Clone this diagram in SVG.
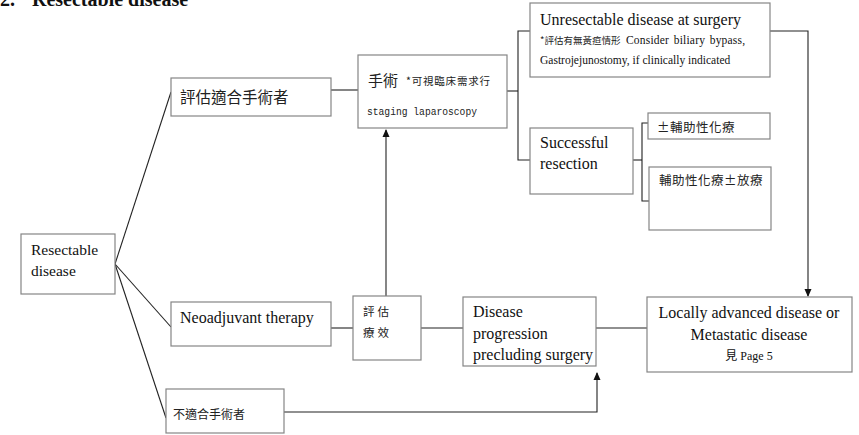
<svg xmlns="http://www.w3.org/2000/svg" width="859" height="435" viewBox="0 0 859 435">
<style>
.box{fill:#fff;stroke:#858585;stroke-width:1.2}
.ln{fill:none;stroke:#222;stroke-width:1.1}
.en{font-family:"Liberation Serif","Noto Sans CJK TC",serif;fill:#111}
.cj{font-family:"Noto Sans CJK TC","Liberation Serif",serif;fill:#222}
.mono{font-family:"Liberation Mono",monospace;fill:#222}
</style>
<defs>
<marker id="arr" markerWidth="8" markerHeight="8" refX="7" refY="4" orient="auto" markerUnits="userSpaceOnUse">
<path d="M0,0.5 L8,4 L0,7.5 Z" fill="#111"/>
</marker>
</defs>
<rect width="859" height="435" fill="#fff"/>
<text class="en" y="6" font-size="20" font-weight="bold"><tspan x="0">2.</tspan><tspan x="32">Resectable disease</tspan></text>

<g id="connectors">
<path class="ln" d="M115,264 L171,92"/>
<path class="ln" d="M115,264 L171,327"/>
<path class="ln" d="M115,264 L166,418"/>
<path class="ln" d="M331,90 L358,90"/>
<path class="ln" d="M507,91 L518,91"/>
<path class="ln" d="M530,31 L518,31 L518,160 L530,160"/>
<path class="ln" d="M633,160 L642,160"/>
<path class="ln" d="M648,123 L642,123 L642,201 L649,201"/>
<path class="ln" d="M770,31 L808,31 L808,296" stroke-width="1.5" marker-end="url(#arr)"/>
<path class="ln" d="M386,296 L386,130" marker-end="url(#arr)"/>
<path class="ln" d="M331,328 L353,328"/>
<path class="ln" d="M421,328 L463,328"/>
<path class="ln" d="M596,328 L647,328"/>
<path class="ln" d="M284,412 L597,412 L597,373" marker-end="url(#arr)"/>
</g>

<g id="resectable">
<rect class="box" x="21" y="234" width="94" height="60"/>
<text class="en" font-size="15.5" x="31" y="255">Resectable</text>
<text class="en" font-size="15.5" x="31" y="276">disease</text>
</g>

<g id="fit">
<rect class="box" x="171" y="78" width="160" height="38"/>
<text class="cj" font-size="15.5" x="180" y="103">評估適合手術者</text>
</g>

<g id="neoadjuvant">
<rect class="box" x="171" y="302" width="160" height="44"/>
<text class="en" font-size="16" x="180" y="323">Neoadjuvant therapy</text>
</g>

<g id="unfit">
<rect class="box" x="166" y="389" width="118" height="44"/>
<text class="cj" font-size="12" x="173" y="419">不適合手術者</text>
</g>

<g id="surgery">
<rect class="box" x="358" y="55" width="149" height="73"/>
<text class="cj" font-size="15" x="368" y="86">手術</text>
<text class="cj" font-size="10.5" x="406" y="85" letter-spacing="0.8">*可視臨床需求行</text>
<text class="mono" font-size="10" x="367" y="115" textLength="110" lengthAdjust="spacingAndGlyphs">staging laparoscopy</text>
</g>

<g id="evaluate">
<rect class="box" x="353" y="296" width="68" height="64"/>
<text class="cj" font-size="11.5" x="363" y="316" letter-spacing="3">評估</text>
<text class="cj" font-size="11.5" x="363" y="337" letter-spacing="3">療效</text>
</g>

<g id="progression">
<rect class="box" x="463" y="297" width="133" height="69"/>
<text class="en" font-size="16" x="473" y="317">Disease</text>
<text class="en" font-size="16" x="473" y="339">progression</text>
<text class="en" font-size="16" x="473" y="360">precluding surgery</text>
</g>

<g id="locally">
<rect class="box" x="647" y="297" width="205" height="75"/>
<text class="en" font-size="16" x="749" y="318" text-anchor="middle">Locally advanced disease or</text>
<text class="en" font-size="16" x="749" y="340" text-anchor="middle">Metastatic disease</text>
<text class="en" font-size="12" x="749" y="360" text-anchor="middle">見 Page 5</text>
</g>

<g id="unresectable">
<rect class="box" x="530" y="3" width="240" height="74"/>
<text class="en" font-size="16" x="540" y="25">Unresectable disease at surgery</text>
<text class="cj" font-size="9.5" x="540" y="44">*評估有無黃疸情形</text>
<text class="en" font-size="11.5" x="626" y="44" letter-spacing="0.2" word-spacing="1.5">Consider biliary bypass,</text>
<text class="en" font-size="11.5" x="540" y="64">Gastrojejunostomy, if clinically indicated</text>
</g>

<g id="successful">
<rect class="box" x="530" y="128" width="103" height="66"/>
<text class="en" font-size="16" x="540" y="148">Successful</text>
<text class="en" font-size="16" x="540" y="169">resection</text>
</g>

<g id="adjchemo">
<rect class="box" x="648" y="113" width="122" height="26"/>
<text class="cj" font-size="12.5" x="657" y="132" letter-spacing="0.5">±輔助性化療</text>
</g>

<g id="adjchemorad">
<rect class="box" x="649" y="167" width="122" height="63"/>
<text class="cj" font-size="12.5" x="659" y="185" letter-spacing="0.5">輔助性化療±放療</text>
</g>
</svg>
